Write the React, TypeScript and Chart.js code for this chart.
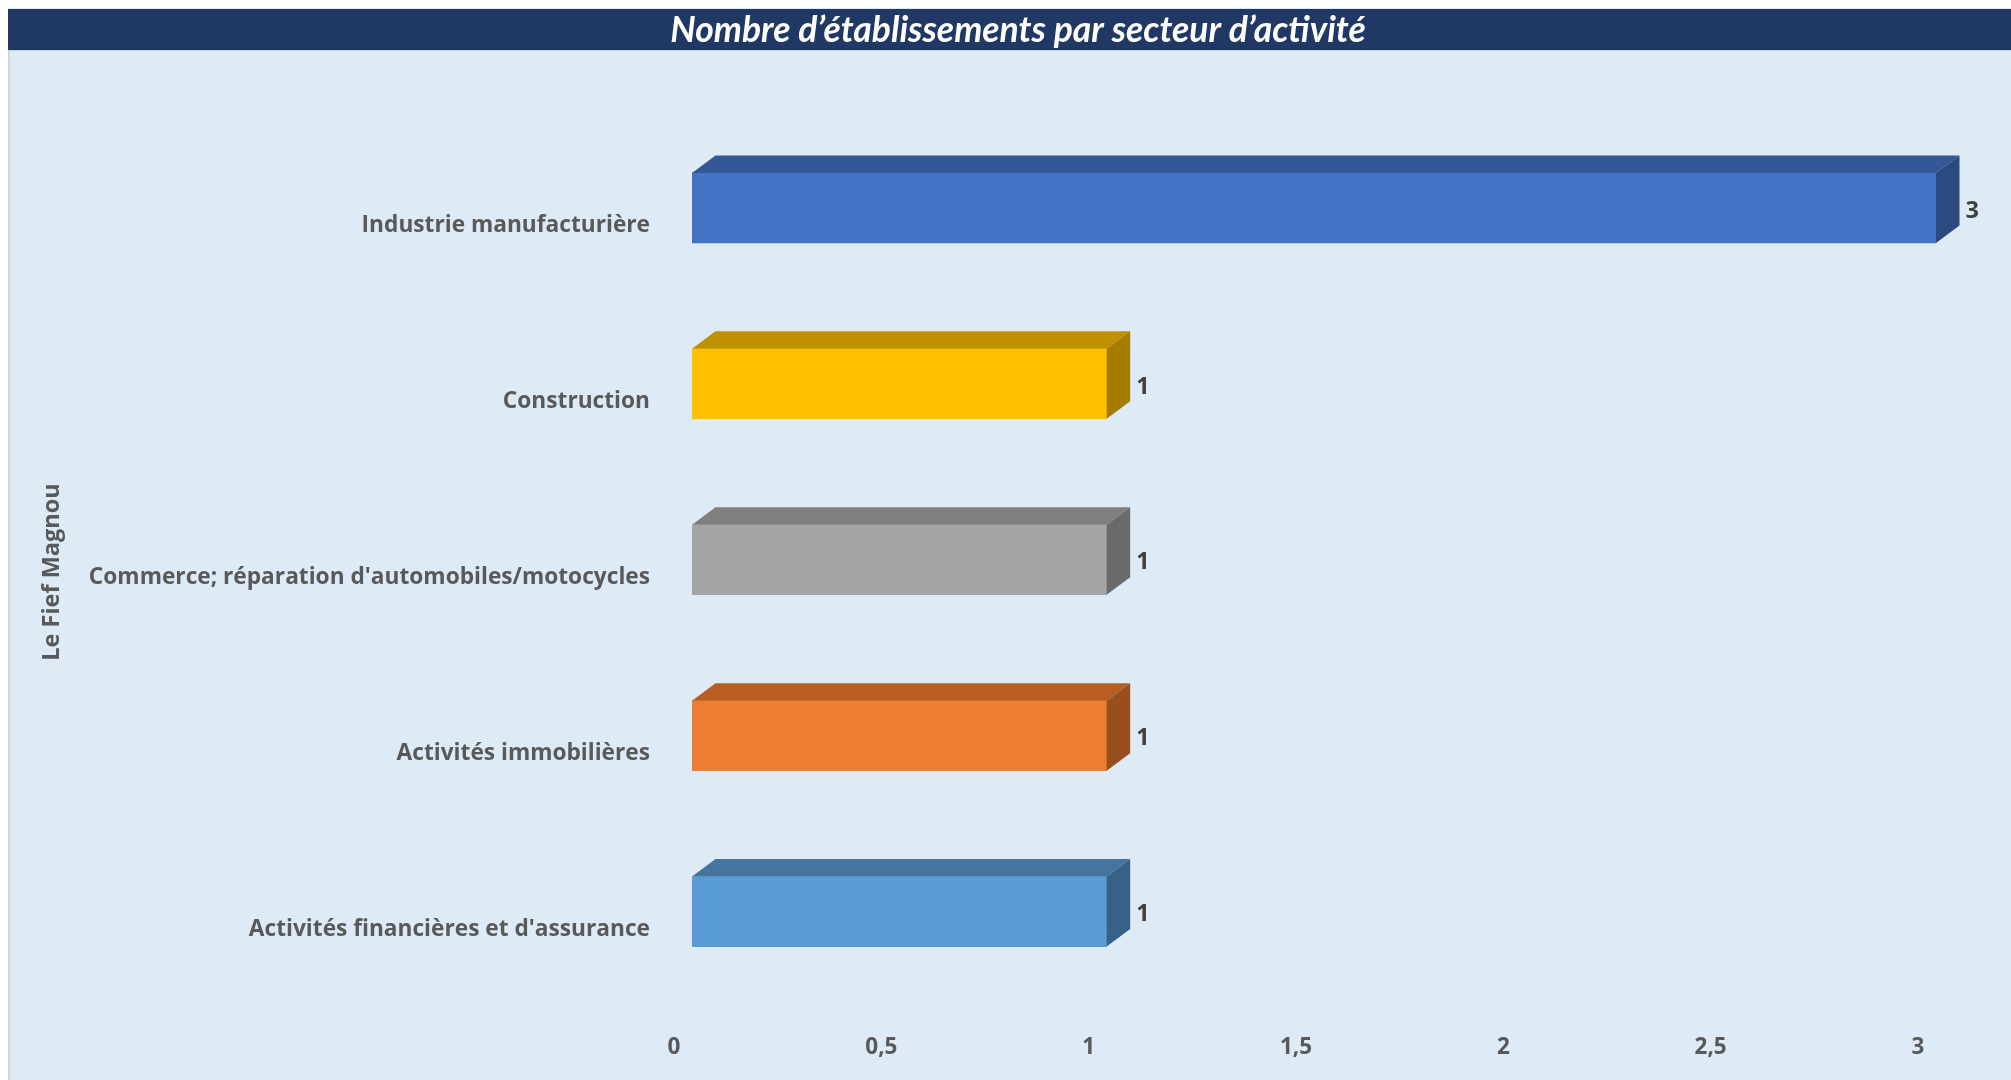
import React, { useEffect, useRef } from "react";
import { Chart, registerables } from "chart.js";

Chart.register(...registerables);

const chartTitle = "Nombre d’établissements par secteur d’activité";
const axisTitle = "Le Fief Magnou";
const categories = [
  "Industrie manufacturière",
  "Construction",
  "Commerce; réparation d'automobiles/motocycles",
  "Activités immobilières",
  "Activités financières et d'assurance",
];
const values = [3, 1, 1, 1, 1];
const frontColors = ["#4472C4", "#FFC000", "#A5A5A5", "#ED7D31", "#5B9BD5"];
const topColors = ["#345896", "#BF9000", "#7F7F7F", "#B85E22", "#44759F"];
const sideColors = ["#2B4A80", "#A67C00", "#6A6A6A", "#984F1E", "#386186"];

const W = 2003;
const H = 1072;
const DX = 23.5;
const DY = 17.5;

const App = () => {
  const ref = useRef<HTMLCanvasElement | null>(null);

  useEffect(() => {
    document.body.style.overflow = "hidden";
    const canvas = ref.current;
    if (!canvas) return;

    const decor = {
      id: "decor",
      beforeDraw(chart: any) {
        const ctx = chart.ctx;
        ctx.save();
        ctx.fillStyle = "#DEEAF6";
        ctx.fillRect(0, 0, W, H);
        ctx.fillStyle = "#D0D0D0";
        ctx.fillRect(0, 42, 1.5, H - 42);
        ctx.fillStyle = "#203864";
        ctx.fillRect(0, 1, W, 41);
        ctx.fillStyle = "#C8CDD6";
        ctx.fillRect(0, 42, W, 1);
        ctx.fillStyle = "#FFFFFF";
        ctx.font = "italic bold 35.5px Lato";
        ctx.textAlign = "center";
        ctx.textBaseline = "middle";
        ctx.fillText(chartTitle, 1010, 23);
        // vertical axis title
        ctx.translate(44, 564);
        ctx.rotate(-Math.PI / 2);
        ctx.fillStyle = "#595959";
        ctx.font = "bold 23.5px 'Open Sans'";
        ctx.fillText(axisTitle, 0, 0);
        ctx.restore();
      },
      afterDatasetsDraw(chart: any) {
        const ctx = chart.ctx;
        const meta = chart.getDatasetMeta(0);
        ctx.save();
        meta.data.forEach((bar: any, i: number) => {
          const x0 = bar.base;
          const x1 = bar.x;
          const yT = bar.y - bar.height / 2;
          const yB = bar.y + bar.height / 2;
          ctx.fillStyle = topColors[i];
          ctx.beginPath();
          ctx.moveTo(x0, yT);
          ctx.lineTo(x0 + DX, yT - DY);
          ctx.lineTo(x1 + DX, yT - DY);
          ctx.lineTo(x1, yT);
          ctx.closePath();
          ctx.fill();
          ctx.fillStyle = sideColors[i];
          ctx.beginPath();
          ctx.moveTo(x1, yT);
          ctx.lineTo(x1 + DX, yT - DY);
          ctx.lineTo(x1 + DX, yB - DY);
          ctx.lineTo(x1, yB);
          ctx.closePath();
          ctx.fill();
          ctx.fillStyle = "#404040";
          ctx.font = "bold 23.5px 'Open Sans'";
          ctx.textAlign = "left";
          ctx.textBaseline = "middle";
          ctx.fillText(String(values[i]), x1 + DX + 6, bar.y + 3);
        });
        ctx.restore();
      },
    };

    const chart = new Chart(canvas, {
      type: "bar",
      data: {
        labels: categories,
        datasets: [
          {
            data: values,
            backgroundColor: frontColors,
            borderWidth: 0,
            barThickness: 70,
          },
        ],
      },
      options: {
        indexAxis: "y",
        animation: false,
        responsive: false,
        maintainAspectRatio: false,
        layout: { padding: { top: 112, right: 75, left: 0, bottom: 0 } },
        plugins: {
          legend: { display: false },
          title: { display: false },
          tooltip: { enabled: false },
        },
        scales: {
          x: {
            min: 0,
            max: 3,
            grid: { display: false, drawTicks: false },
            border: { display: false },
            ticks: {
              stepSize: 0.5,
              padding: 35,
              labelOffset: -18,
              color: "#595959",
              font: { family: "'Open Sans'", size: 22.5, weight: "bold" },
              callback: (v: any) => String(v).replace(".", ","),
            },
            afterFit: (s: any) => {
              s.height = 80.5;
            },
          },
          y: {
            grid: { display: false, drawTicks: false },
            border: { display: false },
            ticks: {
              padding: 42,
              labelOffset: 18,
              color: "#595959",
              font: { family: "'Open Sans'", size: 22.7, weight: "bold" },
            },
            afterFit: (s: any) => {
              s.width = 684;
            },
          },
        },
      },
      plugins: [decor],
    });

    return () => chart.destroy();
  }, []);

  return (
    <div style={{ position: "absolute", left: 8, top: 8, width: W, height: H }}>
      <canvas ref={ref} width={W} height={H} style={{ display: "block", width: W, height: H }} />
    </div>
  );
};

export default App;
